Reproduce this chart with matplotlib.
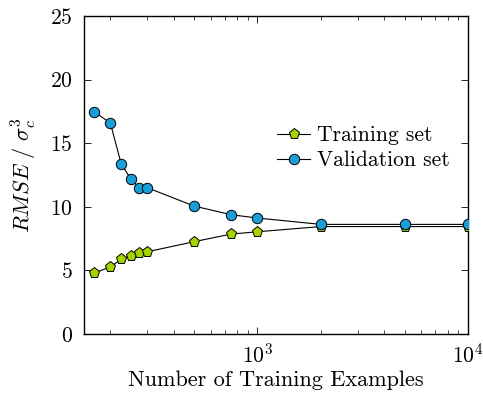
import matplotlib
matplotlib.use('Agg')
import matplotlib.pyplot as plt

plt.rcParams['font.family'] = 'serif'
plt.rcParams['font.serif'] = ['cmr10', 'DejaVu Serif']
plt.rcParams['mathtext.fontset'] = 'cm'
plt.rcParams['axes.formatter.use_mathtext'] = True

# number of training examples
n_examples = [167, 200, 225, 250, 275, 300, 500, 750, 1000, 2000, 5000, 10000]
rmse_train = [4.77, 5.29, 5.87, 6.16, 6.4, 6.47, 7.26, 7.86, 8.04, 8.45, 8.45, 8.45]
rmse_valid = [17.48, 16.6, 13.4, 12.19, 11.5, 11.5, 10.06, 9.38, 9.12, 8.62, 8.62, 8.62]

fig = plt.figure(figsize=(4.83, 4.01), dpi=100)
ax = fig.add_axes([0.174, 0.167, 0.795, 0.793])

ax.plot(n_examples, rmse_train, color='black', lw=0.8, marker='p', ms=8,
        markerfacecolor='#a4d400', markeredgecolor='black', markeredgewidth=0.7,
        label='Training set', zorder=3)
ax.plot(n_examples, rmse_valid, color='black', lw=0.8, marker='o', ms=7.5,
        markerfacecolor='#199fd8', markeredgecolor='black', markeredgewidth=0.7,
        label='Validation set', zorder=4)

ax.set_xscale('log')
ax.set_xlim(150, 10000)
ax.set_ylim(0, 25)
ax.set_yticks([0, 5, 10, 15, 20, 25])

ax.tick_params(which='both', direction='in', top=True, right=True, labelsize=15.5)
ax.tick_params(axis='y', pad=8)
ax.tick_params(axis='x', pad=6)
ax.tick_params(which='major', length=5, width=0.6)
ax.tick_params(which='minor', length=3, width=0.5)
for s in ax.spines.values():
    s.set_linewidth(1.0)

ax.set_xlabel('Number of Training Examples', fontsize=16, labelpad=3)
ax.set_ylabel(r'$RMSE\ /\ \sigma_c^3$', fontsize=16, labelpad=8)

ax.legend(loc='center right', bbox_to_anchor=(0.953, 0.585), frameon=False,
          fontsize=15.5, handlelength=1.5, handletextpad=0.35, labelspacing=0.25,
          borderpad=0, borderaxespad=0)

fig.savefig('out.png', dpi=100)
